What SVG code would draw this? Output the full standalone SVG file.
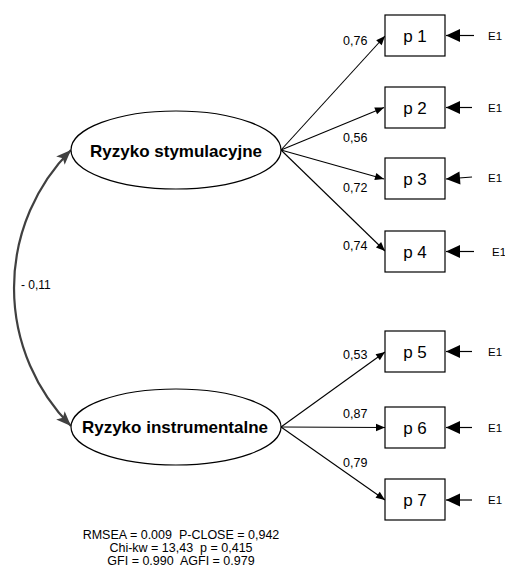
<svg xmlns="http://www.w3.org/2000/svg" width="505" height="568" viewBox="0 0 505 568">
<style>
text{font-family:"Liberation Sans",Arial,sans-serif;fill:#000}
.lat{font-size:17px;font-weight:bold;text-anchor:middle}
.obs{font-size:17px;text-anchor:middle}
.ld{font-size:12.5px}
.err{font-size:11.5px}
.st{font-size:12.5px;text-anchor:middle}
.box{fill:#fff;stroke:#000;stroke-width:1.2}
.ell{fill:#fff;stroke:#000;stroke-width:1.2}
.ln{stroke:#000;stroke-width:1.1;fill:none;marker-end:url(#ah)}
.el{stroke:#000;stroke-width:1.2;fill:none;marker-end:url(#eh)}
</style>
<defs>
<marker id="ah" markerUnits="userSpaceOnUse" markerWidth="12" markerHeight="10" refX="10" refY="4" orient="auto" viewBox="0 0 12 10">
<path d="M10,4 L1,0.3 L1,7.7 z" fill="#000"/>
</marker>
<marker id="eh" markerUnits="userSpaceOnUse" markerWidth="16" markerHeight="14" refX="15" refY="7" orient="auto" viewBox="0 0 16 14">
<path d="M15,7 L1,0.5 L1,13.5 z" fill="#000"/>
</marker>
<marker id="ch" markerUnits="userSpaceOnUse" markerWidth="18" markerHeight="14" refX="16" refY="7" orient="auto-start-reverse" viewBox="0 0 18 14">
<path d="M16,7 L1,1 L4.5,7 L1,13 z" fill="#404040"/>
</marker>
</defs>
<g id="connectors">
<path d="M71,150 A195.6,195.6 0 0,0 71,426" fill="none" stroke="#404040" stroke-width="2.2" marker-start="url(#ch)" marker-end="url(#ch)"/>
<line class="ln" x1="281" y1="150" x2="385" y2="36"/>
<line class="ln" x1="281" y1="150" x2="384" y2="107.5"/>
<line class="ln" x1="281" y1="150" x2="384" y2="179"/>
<line class="ln" x1="281" y1="150" x2="385" y2="251"/>
<line class="ln" x1="281" y1="427" x2="385" y2="352"/>
<line class="ln" x1="281" y1="427" x2="385" y2="427.5"/>
<line class="ln" x1="281" y1="427" x2="385" y2="500"/>
<line class="el" x1="474" y1="35.5" x2="446" y2="35.5"/>
<line class="el" x1="472" y1="107.5" x2="446" y2="107.5"/>
<line class="el" x1="472" y1="177" x2="446" y2="179"/>
<line class="el" x1="474" y1="251.5" x2="446" y2="251.5"/>
<line class="el" x1="472" y1="351.5" x2="446" y2="351.5"/>
<line class="el" x1="472" y1="427.5" x2="446" y2="427.5"/>
<line class="el" x1="472" y1="500" x2="446" y2="500"/>
<text class="ld" x="343" y="45">0,76</text>
<text class="ld" x="343" y="141.5">0,56</text>
<text class="ld" x="343" y="191.5">0,72</text>
<text class="ld" x="343" y="250">0,74</text>
<text class="ld" x="343" y="359">0,53</text>
<text class="ld" x="343" y="418">0,87</text>
<text class="ld" x="343" y="466.5">0,79</text>
<text x="21" y="289" style="font-size:12px">- 0,11</text>
</g>
<g id="f1">
<ellipse class="ell" cx="176" cy="150" rx="105" ry="39"/>
<text class="lat" x="176" y="156.5">Ryzyko stymulacyjne</text>
</g>
<g id="f2">
<ellipse class="ell" cx="176" cy="427" rx="105" ry="38"/>
<text class="lat" x="175" y="433">Ryzyko instrumentalne</text>
</g>
<g id="p1"><rect class="box" x="385" y="15" width="60" height="41"/><text class="obs" x="415" y="41.5">p 1</text></g>
<g id="p2"><rect class="box" x="385" y="87" width="60" height="41"/><text class="obs" x="415" y="113.5">p 2</text></g>
<g id="p3"><rect class="box" x="385" y="158" width="60" height="41"/><text class="obs" x="415" y="184.5">p 3</text></g>
<g id="p4"><rect class="box" x="385" y="231" width="60" height="41"/><text class="obs" x="415" y="257.5">p 4</text></g>
<g id="p5"><rect class="box" x="385" y="331" width="60" height="41"/><text class="obs" x="415" y="357.5">p 5</text></g>
<g id="p6"><rect class="box" x="385" y="407" width="60" height="41"/><text class="obs" x="415" y="433.5">p 6</text></g>
<g id="p7"><rect class="box" x="385" y="479" width="60" height="41"/><text class="obs" x="415" y="506">p 7</text></g>
<g id="errors">
<text class="err" x="488" y="40">E1</text>
<text class="err" x="488" y="112">E1</text>
<text class="err" x="488" y="182">E1</text>
<text class="err" x="492" y="256">E1</text>
<text class="err" x="488" y="356">E1</text>
<text class="err" x="488" y="432">E1</text>
<text class="err" x="488" y="504">E1</text>
</g>
<g id="stats">
<text class="st" x="181" y="539" xml:space="preserve">RMSEA = 0.009  P-CLOSE = 0,942</text>
<text class="st" x="181" y="552" xml:space="preserve">Chi-kw = 13,43  p = 0,415</text>
<text class="st" x="181" y="565" xml:space="preserve">GFI = 0.990  AGFI = 0.979</text>
</g>
</svg>
